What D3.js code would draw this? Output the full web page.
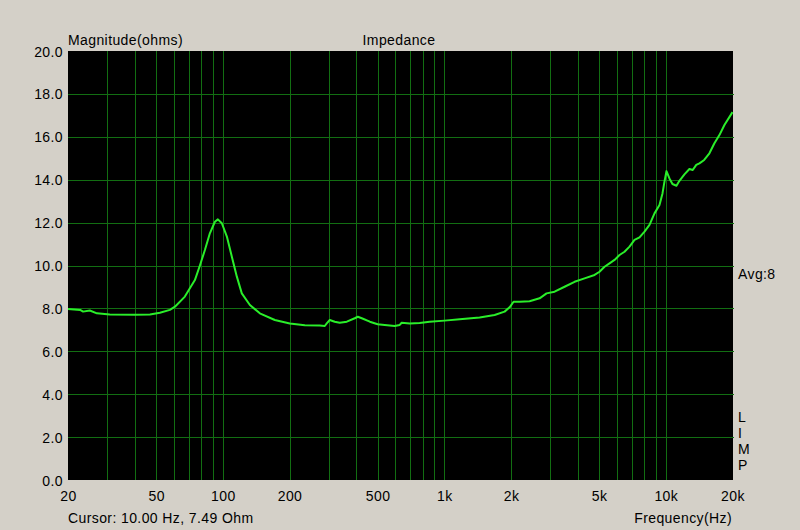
<!DOCTYPE html>
<html><head><meta charset="utf-8">
<script src="https://cdn.jsdelivr.net/npm/d3@7"></script>
<style>
html,body{margin:0;padding:0;background:#d4d0c8;}
svg{display:block;}
text{font-family:Arial,"Liberation Sans",sans-serif;font-size:14px;fill:#000;letter-spacing:0.4px;}
</style></head>
<body>
<svg id="chart" width="800" height="530"></svg>
<script>
const freqHz = [20, 22.7, 23.4, 25.1, 27.0, 30.9, 40.1, 46.9, 52.0, 57.7, 60.8, 67.4, 74.8, 78.8, 83.0, 87.4, 92.1, 95.0, 99.0, 104.3, 109.9, 115.7, 121.8, 132.5, 146.9, 171.7, 200.6, 234.6, 274, 288.6, 294.6, 304, 320, 337, 363, 394, 407, 424, 461, 500, 538, 597, 629, 642, 698, 774, 859, 1003, 1173, 1443, 1687, 1871, 1971, 2054, 2187, 2426, 2692, 2894, 3146, 3491, 3873, 4296, 4767, 5020, 5288, 5570, 5867, 6180, 6510, 6856, 7222, 7607, 8013, 8439, 8889, 9362, 9660, 9860, 10068, 10385, 10713, 11168, 11519, 12134, 12780, 13230, 13720, 14181, 14900, 15733, 16571, 17458, 18386, 20000];
const impedanceOhm = [7.97, 7.93, 7.85, 7.9, 7.77, 7.72, 7.7, 7.72, 7.8, 7.93, 8.08, 8.55, 9.32, 10.0, 10.72, 11.5, 12.04, 12.15, 11.97, 11.35, 10.4, 9.48, 8.7, 8.16, 7.77, 7.46, 7.3, 7.21, 7.2, 7.18, 7.3, 7.46, 7.38, 7.33, 7.38, 7.54, 7.61, 7.54, 7.38, 7.26, 7.23, 7.18, 7.23, 7.33, 7.3, 7.32, 7.38, 7.43, 7.49, 7.58, 7.69, 7.85, 8.05, 8.31, 8.31, 8.33, 8.47, 8.7, 8.78, 9.01, 9.24, 9.4, 9.56, 9.71, 9.94, 10.1, 10.26, 10.49, 10.64, 10.88, 11.19, 11.31, 11.58, 11.89, 12.43, 12.82, 13.36, 13.91, 14.4, 14.06, 13.8, 13.72, 13.95, 14.25, 14.5, 14.45, 14.69, 14.76, 14.92, 15.23, 15.7, 16.08, 16.55, 17.15];
const yTicks = [0, 2, 4, 6, 8, 10, 12, 14, 16, 18, 20];
const xTickValues = [20, 50, 100, 200, 500, 1000, 2000, 5000, 10000, 20000];
const xTickLabels = ["20", "50", "100", "200", "500", "1k", "2k", "5k", "10k", "20k"];
const xGrid = [30,40,50,60,70,80,90,100,200,300,400,500,600,700,800,900,1000,2000,3000,4000,5000,6000,7000,8000,9000,10000];
const sideLetters = ["L", "I", "M", "P"];

const svg = d3.select("#chart");
const L = 68, R = 732.5, T = 51, B = 480;
const x = d3.scaleLog().domain([20, 20000]).range([L, R]);
const y = d3.scaleLinear().domain([0, 20]).range([B, T]);

svg.append("rect").attr("x", L).attr("y", T).attr("width", R - L + 0.5).attr("height", B - T).attr("fill", "#000");

const grid = svg.append("g").attr("stroke", "#126e12").attr("stroke-width", 1).attr("shape-rendering", "crispEdges");
grid.selectAll("line.v").data(xGrid).join("line").attr("class", "v")
  .attr("x1", d => Math.round(x(d)) + 0.5).attr("x2", d => Math.round(x(d)) + 0.5)
  .attr("y1", T).attr("y2", B);
grid.selectAll("line.h").data(yTicks.filter(d => d > 0 && d < 20)).join("line").attr("class", "h")
  .attr("x1", L).attr("x2", R + 1)
  .attr("y1", d => Math.round(y(d)) + 0.5).attr("y2", d => Math.round(y(d)) + 0.5);

const yAxis = d3.axisLeft(y).tickValues(yTicks).tickSize(0).tickPadding(5).tickFormat(d3.format(".1f"));
const gy = svg.append("g").attr("transform", `translate(${L},0)`).call(yAxis);
gy.select(".domain").remove();
gy.selectAll("text").style("font-family", "Arial, 'Liberation Sans', sans-serif").style("font-size", "14px").attr("fill", "#000").attr("dy", "0.36em");

const xAxis = d3.axisBottom(x).tickValues(xTickValues).tickSize(0).tickPadding(11)
  .tickFormat((d, i) => xTickLabels[i]);
const gx = svg.append("g").attr("transform", `translate(0,${B})`).call(xAxis);
gx.select(".domain").remove();
gx.selectAll("text").style("font-family", "Arial, 'Liberation Sans', sans-serif").style("font-size", "14px").attr("fill", "#000");

const line = d3.line().x((d, i) => x(freqHz[i])).y(d => y(d));
svg.append("path").datum(impedanceOhm).attr("d", line)
  .attr("fill", "none").attr("stroke", "#2aee2a").attr("stroke-width", 2).attr("stroke-linejoin", "round");

svg.append("text").attr("x", 68).attr("y", 45).text("Magnitude(ohms)");
svg.append("text").attr("x", 399).attr("y", 45).attr("text-anchor", "middle").text("Impedance");
svg.append("text").attr("x", 68).attr("y", 523).text("Cursor: 10.00 Hz, 7.49 Ohm");
svg.append("text").attr("x", 732).attr("y", 523).attr("text-anchor", "end").text("Frequency(Hz)");
svg.append("text").attr("x", 738).attr("y", 279).text("Avg:8");
svg.selectAll("text.side").data(sideLetters).join("text").attr("class", "side")
  .attr("x", 738).attr("y", (d, i) => 422 + i * 16).text(d => d);
</script>
</body></html>
